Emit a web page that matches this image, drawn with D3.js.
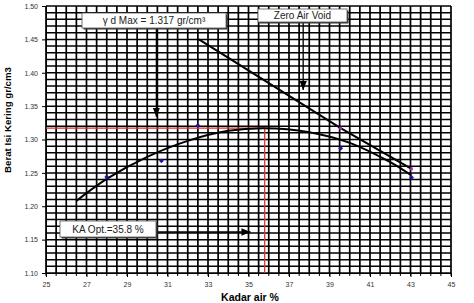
<!DOCTYPE html>
<html>
<head>
<meta charset="utf-8">
<script src="https://cdn.jsdelivr.net/npm/d3@7"></script>
<style>
  body { margin: 0; background: #fff; }
  svg { display: block; }
</style>
</head>
<body>
<svg width="474" height="303"></svg>
<script>
// measured points (kadar air %, berat isi kering)
const moisture = [28.0, 30.7, 32.5, 39.55, 43.05];
const density = [1.244, 1.268, 1.321, 1.287, 1.243];

// fitted compaction curve
const curveX = [26.5, 28, 30, 32, 34, 35.8, 38, 40, 42, 43.05];
const curveY = [1.208, 1.241, 1.274, 1.298, 1.313, 1.317, 1.311, 1.295, 1.266, 1.246];

// zero air void line
const zavX = [32.55, 39.55, 43.05];
const zavY = [1.450, 1.317, 1.256];

const xTicks = [25, 27, 29, 31, 33, 35, 37, 39, 41, 43, 45];
const yTicks = [1.10, 1.15, 1.20, 1.25, 1.30, 1.35, 1.40, 1.45, 1.50];

const optW = 35.8;
const maxD = 1.317;

const svg = d3.select('svg');
const font = "'Liberation Sans', Arial, sans-serif";

const x = d3.scaleLinear().domain([25, 45]).range([46, 451]);
const y = d3.scaleLinear().domain([1.10, 1.50]).range([273, 6]);

// grid
const g = svg.append('g');
g.selectAll('.vg')
    .data(d3.range(25, 45.01, 0.5))
    .enter().append('line')
    .attr('x1', d => x(d)).attr('x2', d => x(d))
    .attr('y1', y(1.10)).attr('y2', y(1.50))
    .attr('stroke', '#000').attr('stroke-width', 1.7);
g.selectAll('.hg')
    .data(d3.range(110, 150.5, 1).map(v => v / 100))
    .enter().append('line')
    .attr('x1', x(25)).attr('x2', x(45))
    .attr('y1', d => y(d)).attr('y2', d => y(d))
    .attr('stroke', '#000').attr('stroke-width', 1.5);

// axes
const xAxis = d3.axisBottom(x).tickValues(xTicks).tickSize(4).tickFormat(d3.format('d'));
svg.append('g')
    .attr('transform', `translate(0,${y(1.10)})`)
    .call(xAxis)
    .call(a => a.select('.domain').attr('stroke', '#000'))
    .call(a => a.selectAll('text').attr('fill', '#333').attr('font-size', 7).attr('y', 9).attr('dy', '0.7em').attr('font-family', font));
svg.append('g')
    .attr('transform', `translate(0,${y(1.10)})`)
    .selectAll('line')
    .data(d3.range(25, 45.01, 0.5))
    .enter().append('line')
    .attr('x1', d => x(d)).attr('x2', d => x(d))
    .attr('y1', 0).attr('y2', 3)
    .attr('stroke', '#000');

const yAxis = d3.axisLeft(y).tickValues(yTicks).tickSize(4).tickFormat(d3.format('.2f'));
svg.append('g')
    .attr('transform', `translate(${x(25)},0)`)
    .call(yAxis)
    .call(a => a.select('.domain').attr('stroke', '#000'))
    .call(a => a.selectAll('text').attr('fill', '#333').attr('font-size', 7).attr('x', -8).attr('font-family', font));

// axis titles
svg.append('text')
    .attr('x', 250).attr('y', 301)
    .attr('text-anchor', 'middle')
    .attr('font-family', font).attr('font-weight', 'bold').attr('font-size', 10.5)
    .text('Kadar air %');
svg.append('text')
    .attr('transform', 'translate(11,120) rotate(-90)')
    .attr('text-anchor', 'middle')
    .attr('font-family', font).attr('font-weight', 'bold').attr('font-size', 9.5)
    .attr('textLength', 106).attr('lengthAdjust', 'spacingAndGlyphs')
    .text('Berat Isi Kering gr/cm3');

// red optimum lines
svg.append('path')
    .attr('d', `M${x(25)},${y(maxD)}H${x(optW)}V${y(1.10)}`)
    .attr('fill', 'none').attr('stroke', '#e03030').attr('stroke-width', 1.3);

// fitted curve
const line = d3.line().x(d => x(d[0])).y(d => y(d[1])).curve(d3.curveCatmullRom);
svg.append('path')
    .datum(curveX.map((v, i) => [v, curveY[i]]))
    .attr('d', line)
    .attr('fill', 'none').attr('stroke', '#000').attr('stroke-width', 2);

// zero air void
svg.append('path')
    .datum(zavX.map((v, i) => [v, zavY[i]]))
    .attr('d', d3.line().x(d => x(d[0])).y(d => y(d[1])))
    .attr('fill', 'none').attr('stroke', '#000').attr('stroke-width', 2);
svg.selectAll('.zp')
    .data(zavX.slice(1).map((v, i) => [v, zavY[i + 1]]))
    .enter().append('path')
    .attr('transform', d => `translate(${x(d[0])},${y(d[1])})`)
    .attr('d', d3.symbol(d3.symbolSquare, 8))
    .attr('fill', '#c020c0');

// measured points
svg.selectAll('.pt')
    .data(moisture.map((v, i) => [v, density[i]]))
    .enter().append('path')
    .attr('transform', d => `translate(${x(d[0])},${y(d[1])}) rotate(45)`)
    .attr('d', d3.symbol(d3.symbolSquare, 12))
    .attr('fill', '#1a1aa0');

// annotation boxes and arrows
svg.append('defs').append('marker')
    .attr('id', 'ah').attr('viewBox', '0 0 10 10')
    .attr('refX', 10).attr('refY', 5)
    .attr('markerWidth', 7).attr('markerHeight', 7)
    .attr('orient', 'auto')
    .append('path').attr('d', 'M0,1L10,5L0,9Z').attr('fill', '#000');

function arrow(x1, y1, x2, y2) {
    svg.append('line')
        .attr('x1', x1).attr('y1', y1).attr('x2', x2).attr('y2', y2)
        .attr('stroke', '#000').attr('stroke-width', 1.3)
        .attr('marker-end', 'url(#ah)');
}
arrow(x(30.45), 28, x(30.45), y(1.334));
arrow(x(37.7), 22, x(37.7), y(1.374));
arrow(156, 232, x(35.1), 232);

function box(x0, y0, w, h, txt, size) {
    svg.append('rect')
        .attr('x', x0 + 1.5).attr('y', y0 + 1.5).attr('width', w).attr('height', h)
        .attr('fill', '#333');
    svg.append('rect')
        .attr('x', x0).attr('y', y0).attr('width', w).attr('height', h)
        .attr('fill', '#fff').attr('stroke', '#555').attr('stroke-width', 0.8);
    svg.append('text')
        .attr('x', x0 + w / 2).attr('y', y0 + h / 2 + size * 0.36)
        .attr('text-anchor', 'middle')
        .attr('font-family', font).attr('font-size', size).attr('fill', '#222')
        .text(txt);
}
box(82, 13, 144, 15, 'γ d Max = 1.317 gr/cm³', 10);
box(258, 9, 89, 13, 'Zero Air Void', 10);
box(60, 221, 96, 16, 'KA Opt.=35.8 %', 10);
</script>
</body>
</html>
